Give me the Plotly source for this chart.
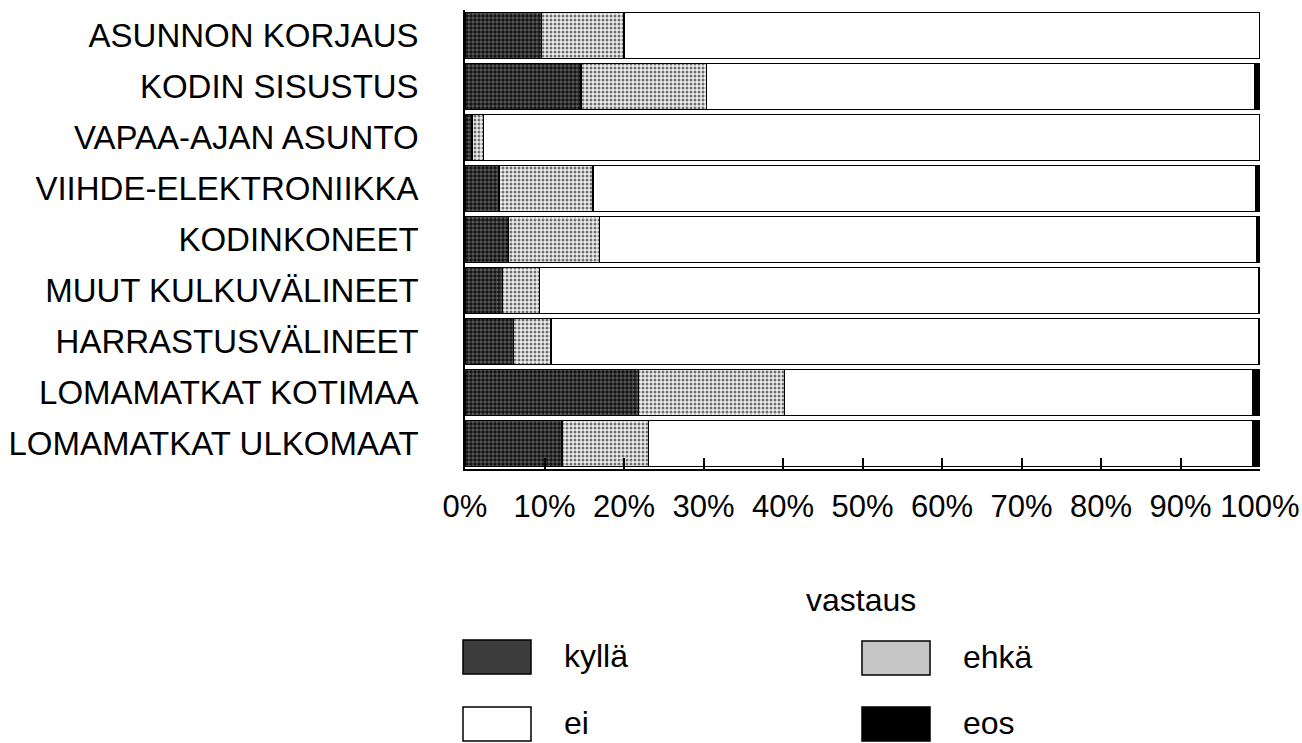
import plotly.graph_objects as go

categories = ["ASUNNON KORJAUS", "KODIN SISUSTUS", "VAPAA-AJAN ASUNTO",
              "VIIHDE-ELEKTRONIIKKA", "KODINKONEET", "MUUT KULKUVÄLINEET",
              "HARRASTUSVÄLINEET", "LOMAMATKAT KOTIMAA", "LOMAMATKAT ULKOMAAT"]
kylla = [9.6, 14.6, 0.9, 4.3, 5.5, 4.7, 6.1, 21.8, 12.2]
ehka = [10.4, 15.8, 1.4, 11.8, 11.4, 4.7, 4.7, 18.4, 10.9]
ei = [80.0, 68.9, 97.7, 83.4, 82.7, 90.5, 89.0, 58.9, 76.0]
eos = [0.0, 0.7, 0.0, 0.5, 0.4, 0.1, 0.2, 0.9, 0.9]
series_names = ["kyllä", "ehkä", "ei", "eos"]
tick_vals = [0, 10, 20, 30, 40, 50, 60, 70, 80, 90, 100]
tick_text = [f"{v}%" for v in tick_vals]
legend_title = "vastaus"

FONT = "Liberation Sans, Arial, sans-serif"
W, H = 1302, 743
L, R, T, B = 465, 42, 10, 274

styles = {
    "kyllä": dict(color="#3a3a3a", pattern=dict(shape=".", fgcolor="#111111", bgcolor="#5e5e5e",
                                                 size=4, solidity=0.6, fillmode="replace")),
    "ehkä": dict(color="#c4c4c4", pattern=dict(shape=".", fgcolor="#707070", bgcolor="#f0f0f0",
                                                size=4, solidity=0.45, fillmode="replace")),
    "ei": dict(color="#ffffff"),
    "eos": dict(color="#000000"),
}
swatch = {"kyllä": "#3c3c3c", "ehkä": "#c6c6c6", "ei": "#ffffff", "eos": "#000000"}

fig = go.Figure()
for name, vals in zip(series_names, [kylla, ehka, ei, eos]):
    fig.add_trace(go.Bar(
        y=categories, x=vals, name=name, orientation="h",
        marker=dict(**styles[name], line=dict(color="black", width=1.5)),
        showlegend=False,
    ))

fig.update_layout(
    barmode="stack", bargap=0.1,
    width=W, height=H,
    margin=dict(l=L, r=R, t=T, b=B, autoexpand=False),
    paper_bgcolor="white", plot_bgcolor="white",
    font=dict(family=FONT, size=32, color="black"),
)
fig.update_xaxes(range=[0, 100], tickvals=tick_vals, ticktext=tick_text,
                 ticks="inside", ticklen=11, tickwidth=1.5, tickcolor="black",
                 showline=True, linecolor="black", linewidth=1.5,
                 showgrid=False, zeroline=False, automargin=False,
                 tickfont=dict(size=31, family=FONT), ticklabelstandoff=9)
fig.update_yaxes(autorange="reversed", showline=True, linecolor="black", linewidth=1.5,
                 showgrid=False, ticks="", automargin=False,
                 tickfont=dict(size=33, family=FONT), ticklabelstandoff=38)

# manual legend (pixel -> paper coordinates)
pw, ph = W - L - R, H - T - B
def px(x):
    return (x - L) / pw
def py(y):
    return (H - B - y) / ph

fig.add_annotation(x=px(861), y=py(600), xref="paper", yref="paper", text=legend_title,
                   showarrow=False, font=dict(size=32, family=FONT), xanchor="center", yanchor="middle")
legend_pos = {"kyllä": (463, 640), "ehkä": (862, 641), "ei": (463, 707), "eos": (862, 707)}
for name in series_names:
    x0, y0 = legend_pos[name]
    fig.add_shape(type="rect", xref="paper", yref="paper",
                  x0=px(x0), x1=px(x0 + 68), y0=py(y0), y1=py(y0 + 34),
                  fillcolor=swatch[name], line=dict(color="black", width=1.5))
    fig.add_annotation(x=px(x0 + 100), y=py(y0 + 16), xref="paper", yref="paper", text=name,
                       showarrow=False, font=dict(size=32, family=FONT),
                       xanchor="left", yanchor="middle", borderpad=0)

fig.write_html("out.html", config={"displayModeBar": False},
               post_script="document.body.style.margin='0px';document.body.style.overflow='hidden';")
